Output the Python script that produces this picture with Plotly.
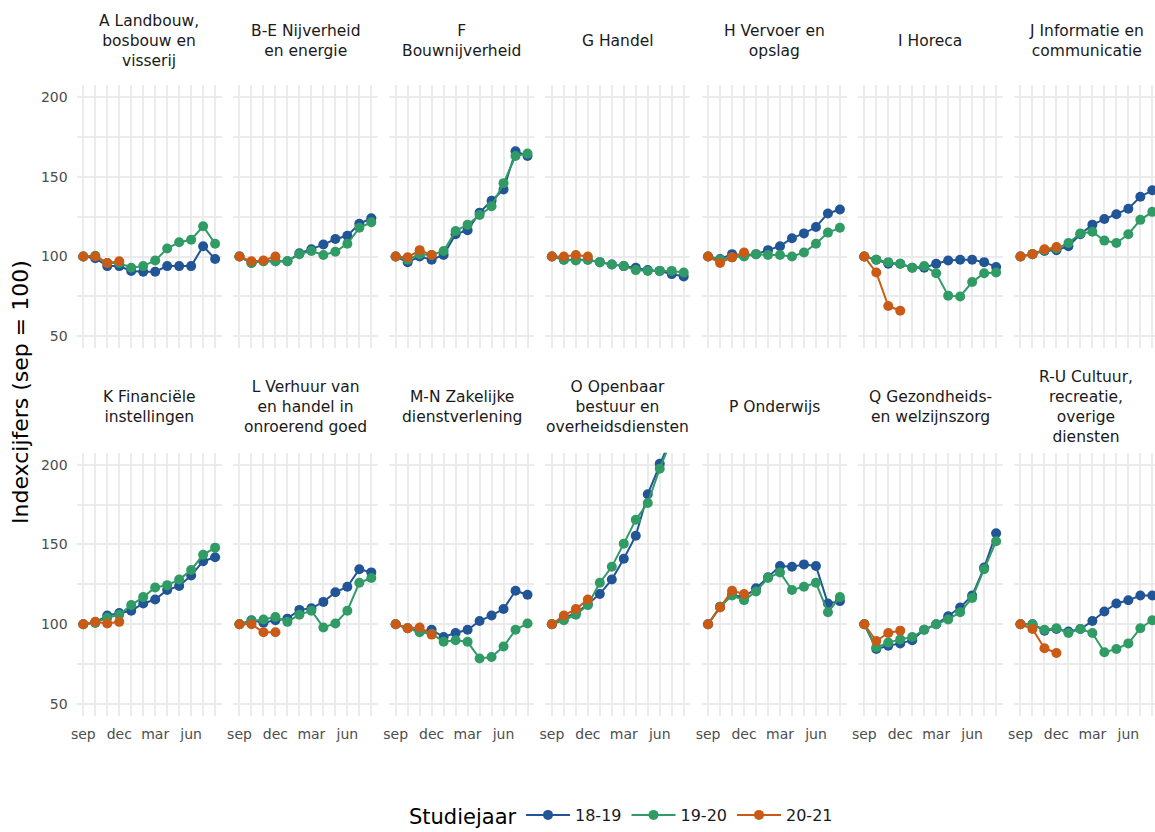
import plotly.graph_objects as go

months = ["sep", "okt", "nov", "dec", "jan", "feb", "mrt", "apr", "mei", "jun", "jul", "aug"]
tick_months = [1, 4, 7, 10]
tick_labels = ["sep", "dec", "mar", "jun"]
years = ["18-19", "19-20", "20-21"]
colors = {"18-19": "#215596", "19-20": "#319B66", "20-21": "#C95B17"}
legend_title = "Studiejaar"

sectors = [
    "A Landbouw,<br>bosbouw en<br>visserij",
    "B-E Nijverheid<br>en energie",
    "F<br>Bouwnijverheid",
    "G Handel",
    "H Vervoer en<br>opslag",
    "I Horeca",
    "J Informatie en<br>communicatie",
    "K Financiële<br>instellingen",
    "L Verhuur van<br>en handel in<br>onroerend goed",
    "M-N Zakelijke<br>dienstverlening",
    "O Openbaar<br>bestuur en<br>overheidsdiensten",
    "P Onderwijs",
    "Q Gezondheids-<br>en welzijnszorg",
    "R-U Cultuur,<br>recreatie,<br>overige<br>diensten",
]

y1819 = [
    [100, 99, 94, 94, 91, 90.5, 90.5, 94, 94, 94, 106.5, 98.5],
    [100, 96, 97, 97, 97, 102, 104.5, 107.5, 111, 113, 120.5, 124],
    [100, 96.5, 100, 98, 101, 114, 116.5, 127.5, 135, 142, 166, 163],
    [100, 98, 98, 98, 96.5, 95, 94, 93, 91.5, 91, 89, 87.5],
    [100, 98.5, 101.5, 101, 101.5, 104, 106.5, 111.5, 114.5, 118.5, 127, 129.5],
    [100, 98, 95.5, 95.5, 93, 93, 95.5, 97.5, 98, 98, 96.5, 93.5],
    [100, 101.5, 103.5, 104, 106.5, 114, 120, 123.5, 126.5, 130, 137.5, 141.5],
    [100, 101, 105.5, 107, 108.5, 113, 115.5, 121.5, 124, 130.5, 139.5, 142],
    [100, 102.5, 101, 102.5, 103.5, 109, 110, 114, 120, 123.5, 134.5, 132.5],
    [100, 97.5, 95.5, 96.5, 92, 94.5, 96.5, 102, 105.5, 109.5, 121, 118.5],
    [100, 104, 107, 112.5, 119, 128, 141, 155.5, 181.5, 200.5, 218, 235],
    [100, 111, 118.5, 117, 122.5, 129.5, 136.5, 136, 137.5, 136.5, 113, 114.5],
    [100, 84.5, 86.5, 88, 90, 96.5, 100, 105, 110.5, 118, 135.5, 157],
    [100, 100, 96, 97, 95.5, 97, 102, 108, 113, 115, 118, 118],
]

y1920 = [
    [100, 100.5, 96, 96, 93, 94, 97.5, 105, 109, 110.5, 119, 108],
    [100, 96, 97, 97, 97, 101.5, 103.5, 101, 103, 108, 118, 121.5],
    [100, 98, 101.5, 101, 103.5, 116, 120, 126, 131.5, 146, 163, 164.5],
    [100, 98, 97.5, 98, 96.5, 95, 94, 91.5, 91, 91, 91, 90],
    [100, 98, 99.5, 100, 101.5, 101, 101, 100, 102.5, 108, 115, 118],
    [100, 98, 96.5, 95.5, 93, 94, 89.5, 75.5, 75, 84, 89.5, 90],
    [100, 101.5, 104, 105, 108.5, 114.5, 115.5, 110, 108.5, 114, 123, 128],
    [100, 101, 104, 106, 112, 117, 123, 124.5, 128, 134, 143.5, 148],
    [100, 102, 103, 104.5, 101.5, 106, 108.5, 98, 100.5, 108.5, 126, 129],
    [100, 97.5, 95, 94, 89, 90, 89, 78.5, 79.5, 86, 96.5, 100.5],
    [100, 102.5, 106, 112, 126, 136, 150.5, 165.5, 176, 197.5, 216, 232],
    [100, 111, 118, 115, 120.5, 129, 132.5, 121.5, 123.5, 126, 107.5, 117],
    [100, 85.5, 88.5, 90.5, 92, 96.5, 100, 103, 107.5, 116.5, 134.5, 152],
    [100, 100, 96.5, 97.5, 94.5, 97, 94.5, 82.5, 84.5, 88, 97.5, 102.5],
]

y2021 = [
    [100, 100, 96, 97],
    [100, 97, 97.5, 100],
    [100, 99.5, 104, 101],
    [100, 100, 101, 100],
    [100, 96, 99.5, 102.5],
    [100, 90, 69, 66],
    [100, 101.5, 104.5, 106],
    [100, 101.5, 100.5, 101.5],
    [100, 100, 95, 95],
    [100, 97.5, 98, 93.5],
    [100, 105.5, 109.5, 115.5],
    [100, 110.5, 121, 119],
    [100, 89.5, 94.5, 96],
    [100, 97, 85, 82],
]

y_ticks = [50, 100, 150, 200]

# ---------------- layout geometry (pixels) ----------------
W, H = 1155, 832
FONT = "DejaVu Sans"
panel_left0, step, pw = 76.7, 156.2, 145.0
row_top = [85.0, 452.7]
ph = 263.3
x_lo, x_span = 0.45, 12.1
y_range = [42.5, 207.5]
grid_col = "#EBEBEB"

fig = go.Figure()
series = {"18-19": y1819, "19-20": y1920, "20-21": y2021}
annotations = []

for i, title in enumerate(sectors):
    r, c = divmod(i, 7)
    left = panel_left0 + c * step
    right = min(left + pw, W)
    x_hi = x_lo + (right - left) / pw * x_span
    top = row_top[r]
    bottom = top + ph
    sfx = "" if i == 0 else str(i + 1)
    xa, ya = "x" + sfx, "y" + sfx

    for yr in years:
        vals = series[yr][i]
        fig.add_trace(go.Scatter(
            x=list(range(1, len(vals) + 1)), y=vals,
            mode="lines+markers", name=yr, legendgroup=yr,
            showlegend=(i == 0),
            line=dict(color=colors[yr], width=2),
            marker=dict(color=colors[yr], size=10),
            xaxis=xa, yaxis=ya,
        ))

    fig.layout["xaxis" + sfx] = dict(
        domain=[left / W, right / W], anchor=ya, range=[x_lo, x_hi],
        tickvals=tick_months, ticktext=tick_labels, showticklabels=(r == 1),
        showgrid=False, zeroline=False, showline=False, ticks="",
        minor=dict(tickvals=list(range(1, 13)), showgrid=True,
                   gridcolor=grid_col, gridwidth=2, ticks=""),
        tickfont=dict(family=FONT, size=14, color="#4D4D4D"),
        ticklabelstandoff=8, automargin=False, fixedrange=True,
    )
    fig.layout["yaxis" + sfx] = dict(
        domain=[1 - bottom / H, 1 - top / H], anchor=xa, range=y_range,
        tickvals=y_ticks, showticklabels=(c == 0),
        showgrid=False, zeroline=False, showline=False, ticks="",
        minor=dict(tickvals=list(range(50, 201, 25)), showgrid=True,
                   gridcolor=grid_col, gridwidth=2, ticks=""),
        tickfont=dict(family=FONT, size=14, color="#4D4D4D"),
        ticklabelstandoff=8, automargin=False, fixedrange=True,
    )

    strip_y = 41 if r == 0 else 407
    annotations.append(dict(
        text=title, x=(left + pw / 2) / W, y=1 - strip_y / H,
        xref="paper", yref="paper", xanchor="center", yanchor="middle",
        showarrow=False, align="center",
        font=dict(family=FONT, size=15.5, color="#1A1A1A"),
    ))

annotations.append(dict(
    text="Indexcijfers (sep = 100)", x=20 / W, y=1 - 392 / H,
    xref="paper", yref="paper", xanchor="center", yanchor="middle",
    textangle=-90, showarrow=False,
    font=dict(family=FONT, size=22, color="#000000"),
))

# legend title placed next to the legend items
annotations.append(dict(
    text=legend_title, x=519 / W, y=1 - 817 / H,
    xref="paper", yref="paper", xanchor="right", yanchor="middle",
    showarrow=False,
    font=dict(family=FONT, size=21, color="#000000"),
))

fig.update_layout(
    width=W, height=H,
    margin=dict(l=0, r=0, t=0, b=0),
    paper_bgcolor="white", plot_bgcolor="white",
    annotations=annotations,
    showlegend=True,
    legend=dict(
        orientation="h", x=521 / W, xanchor="left",
        y=0, yanchor="bottom",
        font=dict(family=FONT, size=16, color="#1A1A1A"),
        itemwidth=44, tracegroupgap=0,
    ),
)

fig.write_html(
    "out.html",
    config={"displayModeBar": False},
    post_script=("document.documentElement.style.margin='0';"
                 "document.body.style.margin='0';document.body.style.padding='0';"),
)
